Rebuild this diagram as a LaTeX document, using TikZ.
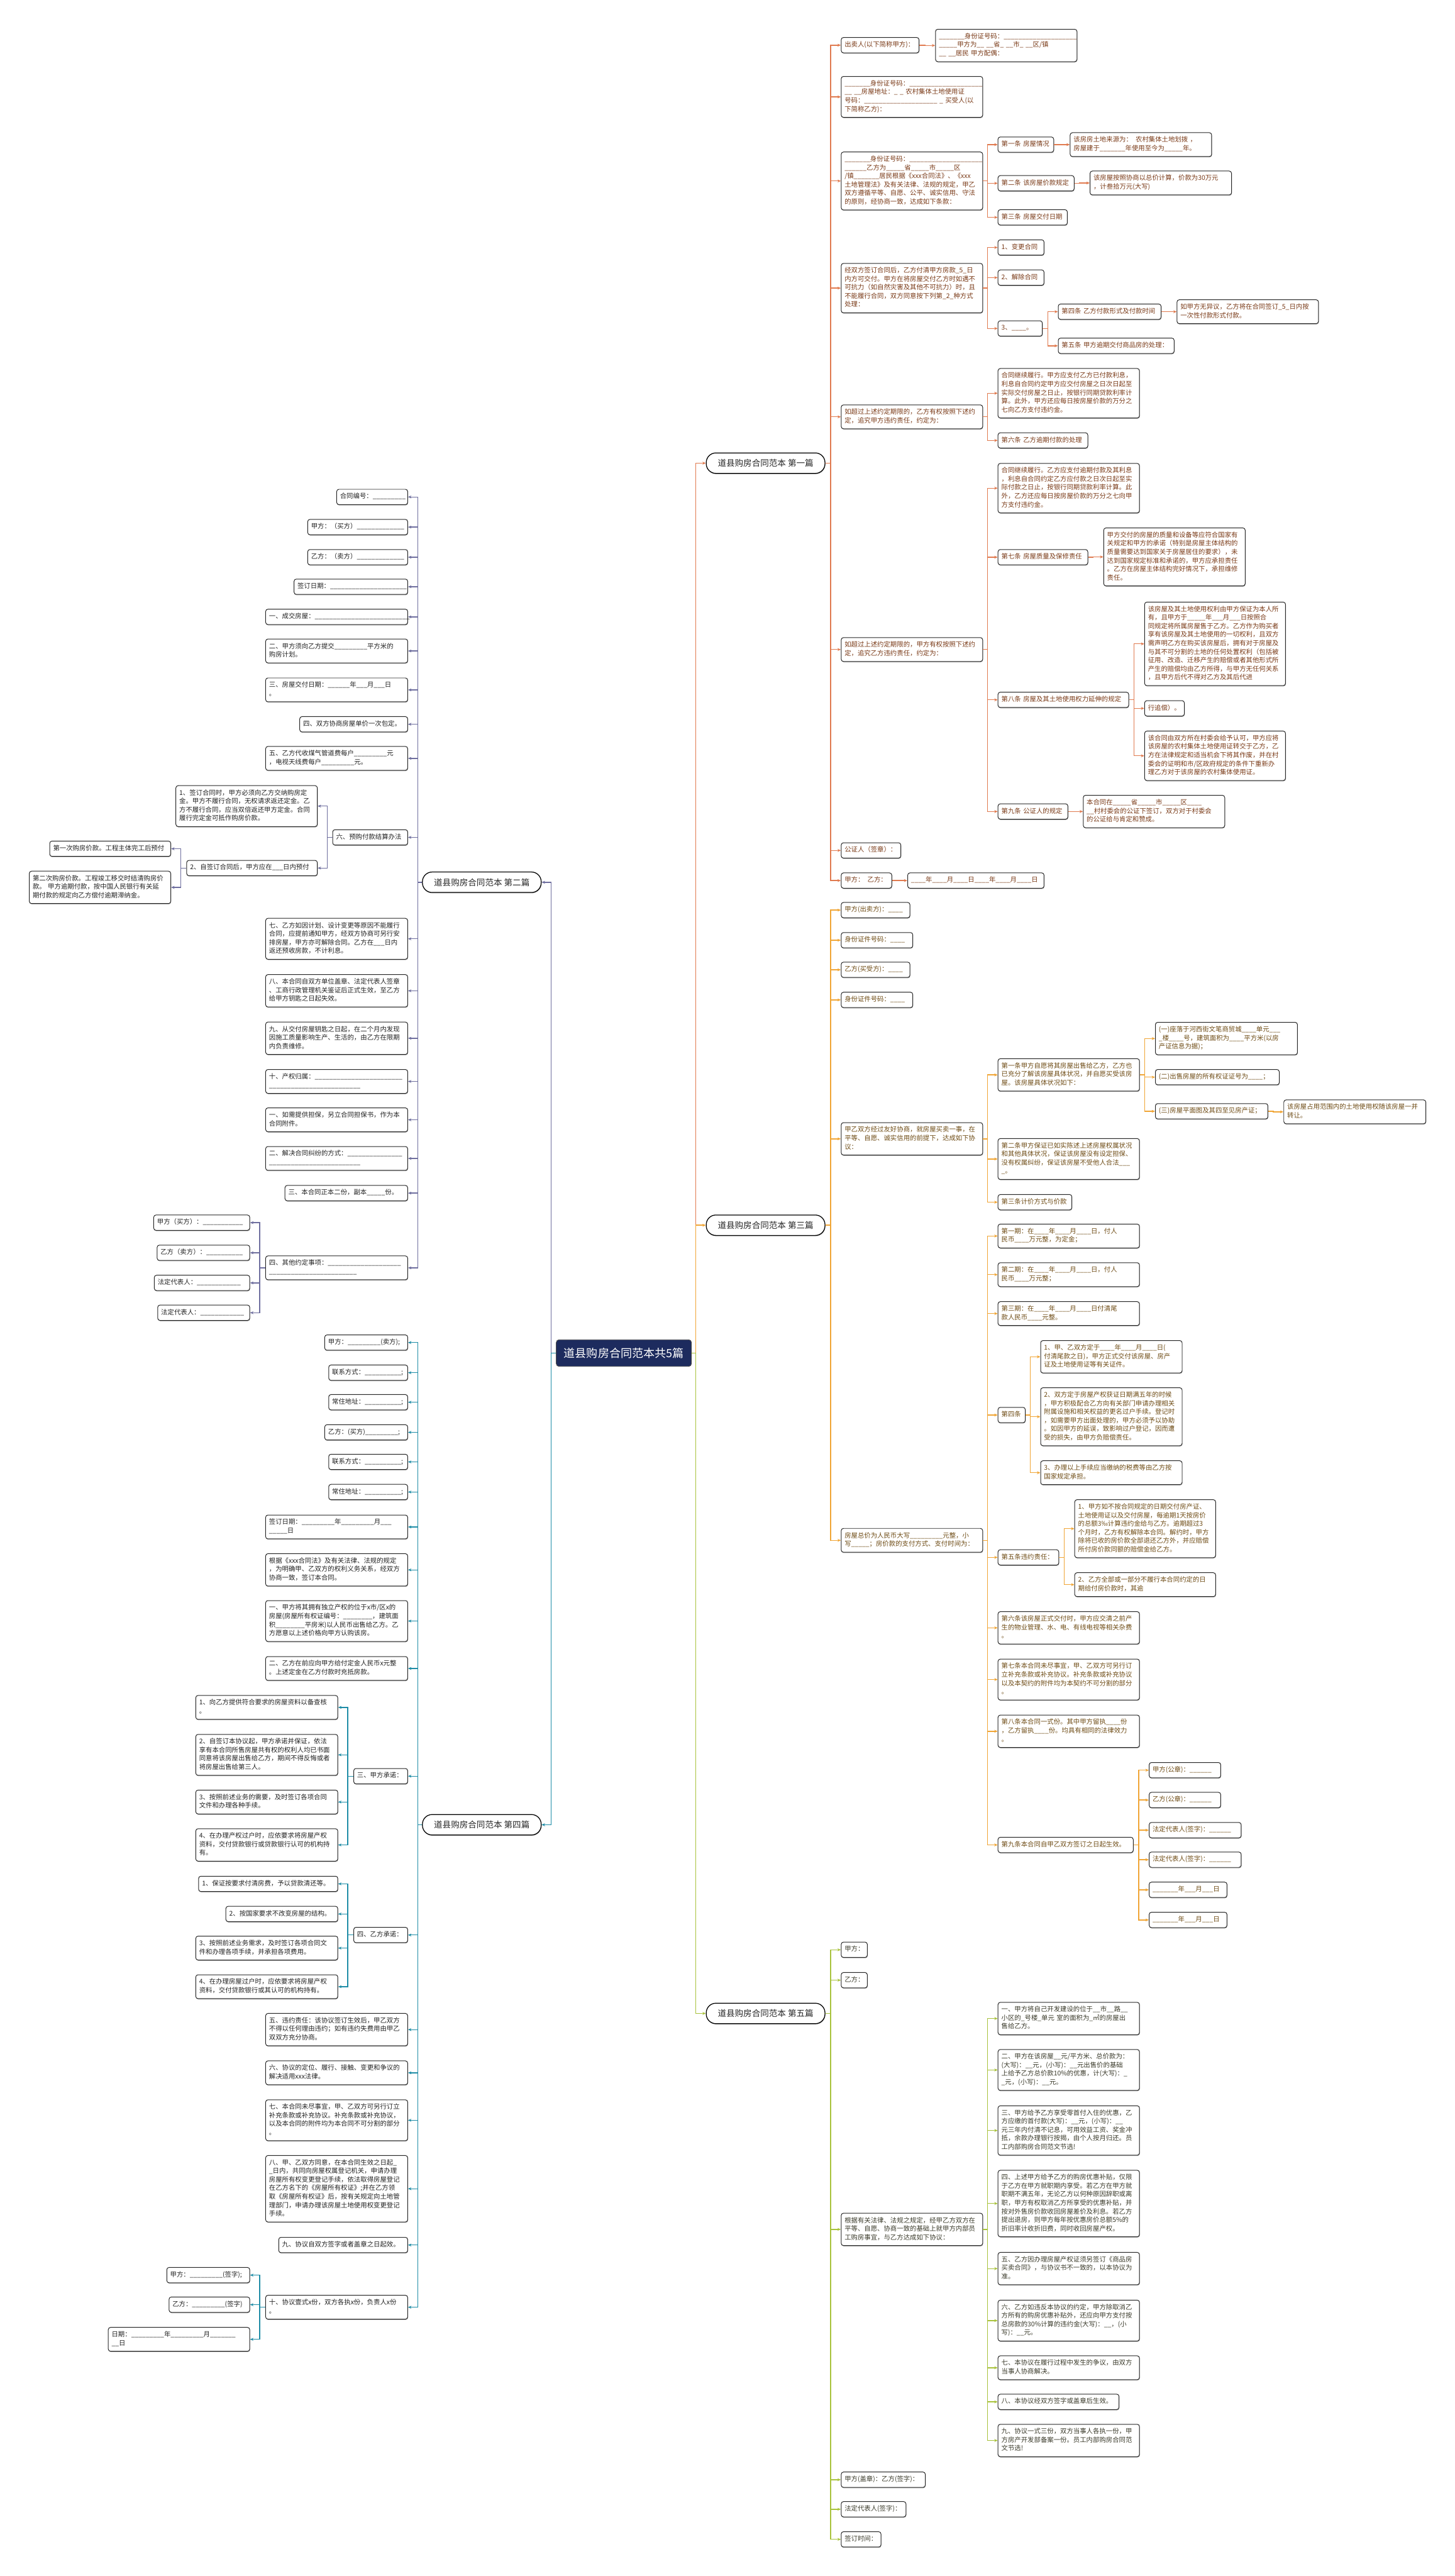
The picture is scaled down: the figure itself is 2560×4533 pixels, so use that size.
\documentclass[tikz,border=0pt]{standalone}
\usepackage{fontspec}
\newfontfamily\cjk{Noto Sans CJK SC}
\usetikzlibrary{arrows.meta,calc,shadows}
\definecolor{c1}{HTML}{E07A4F}
\definecolor{c2}{HTML}{6E6E9E}
\definecolor{c3}{HTML}{F0A535}
\definecolor{c4}{HTML}{1E8CA6}
\definecolor{c5}{HTML}{A8C23C}
\definecolor{tc1}{HTML}{7A3A17}
\definecolor{tc3}{HTML}{6E4B14}
\definecolor{tc5}{HTML}{3A3A2A}
\definecolor{tcl}{HTML}{222222}
\definecolor{navy}{HTML}{1D2B5E}
\newcommand\bn[6]{\pgfmathsetmacro\mytw{#4-#3-12}\node[#2,text width=\mytw pt] (#1) at (#3,#5) {#6};}
\newcommand\ER[3]{\draw[#1] (#2.east) -| ($(#3.west)+(-18,0)$) -- (#3.west);}
\newcommand\EL[3]{\draw[#1] (#2.west) -| ($(#3.east)+(17,0)$) -- (#3.east);}
\tikzset{
 bx/.style={draw=black!85, line width=1.1pt, rounded corners=4pt, fill=white, inner xsep=6pt, inner ysep=6pt, align=left, anchor=west, font=\cjk\fontsize{11.5}{15}\selectfont, execute at begin node=\strut, execute at end node=\strut, drop shadow={shadow xshift=0.6pt, shadow yshift=-1.4pt, opacity=0.3, fill=black}},
 k1/.style={bx, text=tc1}, k3/.style={bx, text=tc3}, k5/.style={bx, text=tc5}, kl/.style={bx, text=tcl},
 lone/.style={draw=black, line width=1.4pt, rounded corners=17pt, fill=white, minimum width=209pt, minimum height=36pt, inner sep=0pt, font=\cjk\fontsize{15}{18}\selectfont, text=black!85, drop shadow={shadow xshift=0.6pt, shadow yshift=-1.4pt, opacity=0.3, fill=black}},
 cen/.style={fill=navy, draw=black!70, line width=1pt, rounded corners=5pt, minimum width=238pt, minimum height=47pt, inner sep=0pt, text=white, font=\cjk\fontsize{20}{24}\selectfont},
 e1/.style={draw=c1, line width=1.5pt, -{Stealth[length=6pt,width=5pt]}},
 e2/.style={draw=c2, line width=1.5pt, -{Stealth[length=6pt,width=5pt]}},
 e3/.style={draw=c3, line width=1.5pt, -{Stealth[length=6pt,width=5pt]}},
 e4/.style={draw=c4, line width=1.5pt, -{Stealth[length=6pt,width=5pt]}},
 e5/.style={draw=c5, line width=1.5pt, -{Stealth[length=6pt,width=5pt]}},
}
\begin{document}
\catcode`\_=12
\begin{tikzpicture}[x=1pt,y=-1pt]
\useasboundingbox[fill=white] (0,0) rectangle (2560,4533);
% central and level one
\node[cen] (C) at (1098,2381) {道县购房合同范本共5篇};
\node[lone] (L1) at (1347.5,815) {道县购房合同范本 第一篇};
\node[lone] (L2) at (848,1552.5) {道县购房合同范本 第二篇};
\node[lone] (L3) at (1347.5,2156) {道县购房合同范本 第三篇};
\node[lone] (L4) at (848,3211) {道县购房合同范本 第四篇};
\node[lone] (L5) at (1347.5,3543) {道县购房合同范本 第五篇};

% ---------- branch 1 ----------
\bn{b1a}{k1}{1480}{1617}{79.5}{出卖人(以下简称甲方)：}
\bn{b1a1}{k1}{1646}{1895}{80}{_______身份证号码：____________________\\_____甲方为__ __省_ __市_ __区/镇\\__ __居民 甲方配偶：}
\bn{b1b}{k1}{1480}{1729}{170.5}{_______身份证号码：____________________\\__ __房屋地址：_ _ 农村集体土地使用证\\号码：____________________ _ 买受人(以\\下简称乙方)：}
\bn{b1c}{k1}{1480}{1729}{318.5}{_______身份证号码：____________________\\______乙方为_____省_____市_____区\\/镇_______居民根据《xxx合同法》、《xxx\\土地管理法》及有关法律、法规的规定，甲乙\\双方遵循平等、自愿、公平、诚实信用、守法\\的原则，经协商一致，达成如下条款：}
\bn{b1c1}{k1}{1756}{1854}{254.5}{第一条 房屋情况}
\bn{b1c1a}{k1}{1883}{2132}{254.5}{该房房土地来源为：\enspace 农村集体土地划拨 ，\\房屋建于_______年使用至今为_____年。}
\bn{b1c2}{k1}{1756}{1890}{322.5}{第二条 该房屋价款规定}
\bn{b1c2a}{k1}{1918}{2167}{322}{该房屋按照协商以总价计算，价款为30万元\\，计叁拾万元(大写)}
\bn{b1c3}{k1}{1756}{1878}{382.5}{第三条 房屋交付日期}
\bn{b1d}{k1}{1480}{1729}{507}{经双方签订合同后，乙方付清甲方房款_5_日\\内方可交付。甲方在将房屋交付乙方时如遇不\\可抗力（如自然灾害及其他不可抗力）时，且\\不能履行合同，双方同意按下列第_2_种方式\\处理：}
\bn{b1d1}{k1}{1756}{1837}{435.5}{1、变更合同}
\bn{b1d2}{k1}{1756}{1837}{488.5}{2、解除合同}
\bn{b1d3}{k1}{1756}{1834}{578}{3、____。}
\bn{b1d3a}{k1}{1862}{2043}{548.5}{第四条 乙方付款形式及付款时间}
\bn{b1d3a1}{k1}{2071}{2320}{548.5}{如甲方无异议，乙方将在合同签订_5_日内按\\一次性付款形式付款。}
\bn{b1d3b}{k1}{1862}{2066}{608.5}{第五条 甲方逾期交付商品房的处理：}
\bn{b1e}{k1}{1480}{1729}{733.5}{如超过上述约定期限的，乙方有权按照下述约\\定，追究甲方违约责任，约定为：}
\bn{b1e1}{k1}{1756}{2005}{692}{合同继续履行。甲方应支付乙方已付款利息，\\利息自合同约定甲方应交付房屋之日次日起至\\实际交付房屋之日止，按银行同期贷款利率计\\算。此外，甲方还应每日按房屋价款的万分之\\七向乙方支付违约金。}
\bn{b1e2}{k1}{1756}{1914}{775}{第六条 乙方逾期付款的处理}
\bn{b1f}{k1}{1480}{1729}{1143}{如超过上述约定期限的，甲方有权按照下述约\\定，追究乙方违约责任，约定为：}
\bn{b1f1}{k1}{1756}{2005}{859}{合同继续履行。乙方应支付逾期付款及其利息\\，利息自合同约定乙方应付款之日次日起至实\\际付款之日止，按银行同期贷款利率计算。此\\外，乙方还应每日按房屋价款的万分之七向甲\\方支付违约金。}
\bn{b1f2}{k1}{1756}{1914}{980.5}{第七条 房屋质量及保修责任}
\bn{b1f2a}{k1}{1942}{2191}{980}{甲方交付的房屋的质量和设备等应符合国家有\\关规定和甲方的承诺（特别是房屋主体结构的\\质量需要达到国家关于房屋居住的要求），未\\达到国家规定标准和承诺的，甲方应承担责任\\。乙方在房屋主体结构完好情况下，承担维修\\责任。}
\bn{b1f3}{k1}{1756}{1986}{1231.5}{第八条 房屋及其土地使用权力延伸的规定}
\bn{b1f3a}{k1}{2014}{2262}{1133}{该房屋及其土地使用权利由甲方保证为本人所\\有，且甲方于_____年___月___日按照合\\同规定将所属房屋售于乙方。乙方作为购买者\\享有该房屋及其土地使用的一切权利，且双方\\需声明乙方在购买该房屋后，拥有对于房屋及\\与其不可分割的土地的任何处置权利（包括被\\征用、改造、迁移产生的赔偿或者其他形式所\\产生的赔偿均由乙方所得，与甲方无任何关系\\，且甲方后代不得对乙方及其后代进}
\bn{b1f3b}{k1}{2014}{2084}{1246.5}{行追偿）。}
\bn{b1f3c}{k1}{2014}{2262}{1330}{该合同由双方所在村委会给予认可，甲方应将\\该房屋的农村集体土地使用证转交于乙方，乙\\方在法律规定和适当机会下将其作废，并在村\\委会的证明和市/区政府规定的条件下重新办\\理乙方对于该房屋的农村集体使用证。}
\bn{b1f4}{k1}{1756}{1879}{1428}{第九条 公证人的规定}
\bn{b1f4a}{k1}{1906}{2155}{1428}{本合同在_____省_____市_____区____\\__村村委会的公证下签订，双方对于村委会\\的公证给与肯定和赞成。}
\bn{b1g}{k1}{1480}{1585}{1496.5}{公证人（签章）：}
\bn{b1h}{k1}{1480}{1569}{1549.5}{甲方：\enspace 乙方：}
\bn{b1h1}{k1}{1597}{1837}{1549.5}{____年____月____日____年____月____日}

% ---------- branch 3 ----------
\bn{b3a}{k3}{1480}{1601}{1601.5}{甲方(出卖方)：____}
\bn{b3b}{k3}{1480}{1606}{1654.5}{身份证件号码：____}
\bn{b3c}{k3}{1480}{1601}{1706.5}{乙方(买受方)：____}
\bn{b3d}{k3}{1480}{1606}{1759.5}{身份证件号码：____}
\bn{b3e}{k3}{1480}{1729}{2004}{甲乙双方经过友好协商，就房屋买卖一事，在\\平等、自愿、诚实信用的前提下，达成如下协\\议：}
\bn{b3e1}{k3}{1756}{2005}{1891.5}{第一条甲方自愿将其房屋出售给乙方，乙方也\\已充分了解该房屋具体状况，并自愿买受该房\\屋。该房屋具体状况如下：}
\bn{b3e1a}{k3}{2033}{2283}{1827.5}{(一)座落于河西街文笔商贸城____单元___\\_楼____号，建筑面积为____平方米(以房\\产证信息为据)；}
\bn{b3e1b}{k3}{2033}{2251}{1895.5}{(二)出售房屋的所有权证证号为____；}
\bn{b3e1c}{k3}{2033}{2231}{1955.5}{(三)房屋平面图及其四至见房产证；}
\bn{b3e1c1}{k3}{2259}{2509}{1956.5}{该房屋占用范围内的土地使用权随该房屋一并\\转让。}
\bn{b3e2}{k3}{1756}{2005}{2039.5}{第二条甲方保证已如实陈述上述房屋权属状况\\和其他具体状况，保证该房屋没有设定担保、\\没有权属纠纷，保证该房屋不受他人合法___\\_。}
\bn{b3e3}{k3}{1756}{1886}{2115.5}{第三条计价方式与价款}
\bn{b3f}{k3}{1480}{1729}{2710.5}{房屋总价为人民币大写_________元整，小\\写_____；房价款的支付方式、支付时间为：}
\bn{b3f1}{k3}{1756}{2005}{2175}{第一期：在____年____月____日，付人\\民币____万元整，为定金；}
\bn{b3f2}{k3}{1756}{2005}{2243}{第二期：在____年____月____日，付人\\民币____万元整；}
\bn{b3f3}{k3}{1756}{2005}{2311.5}{第三期：在____年____月____日付清尾\\款人民币____元整。}
\bn{b3f4}{k3}{1756}{1804}{2490}{第四条}
\bn{b3f4a}{k3}{1831}{2080}{2387.5}{1、甲、乙双方定于____年____月____日(\\付清尾款之日)，甲方正式交付该房屋、房产\\证及土地使用证等有关证件。}
\bn{b3f4b}{k3}{1831}{2080}{2493}{2、双方定于房屋产权获证日期满五年的时候\\，甲方积极配合乙方向有关部门申请办理相关\\附属设施和相关权益的更名过户手续。登记时\\，如需要甲方出面处理的，甲方必须予以协助\\。如因甲方的延误，致影响过户登记，因而遭\\受的损失，由甲方负赔偿责任。}
\bn{b3f4c}{k3}{1831}{2080}{2591.5}{3、办理以上手续应当缴纳的税费等由乙方按\\国家规定承担。}
\bn{b3f5}{k3}{1756}{1863}{2740.5}{第五条违约责任：}
\bn{b3f5a}{k3}{1891}{2139}{2690}{1、甲方如不按合同规定的日期交付房产证、\\土地使用证以及交付房屋，每逾期1天按房价\\的总额3‰计算违约金给与乙方。逾期超过3\\个月时，乙方有权解除本合同。解约时，甲方\\除将已收的房价款全部退还乙方外，并应赔偿\\所付房价款同额的赔偿金给乙方。}
\bn{b3f5b}{k3}{1891}{2139}{2788.5}{2、乙方全部或一部分不履行本合同约定的日\\期给付房价款时，其逾}
\bn{b3f6}{k3}{1756}{2005}{2864.5}{第六条该房屋正式交付时，甲方应交清之前产\\生的物业管理、水、电、有线电视等相关杂费\\。}
\bn{b3f7}{k3}{1756}{2005}{2955.5}{第七条本合同未尽事宜，甲、乙双方可另行订\\立补充条款或补充协议。补充条款或补充协议\\以及本契约的附件均为本契约不可分割的部分\\。}
\bn{b3f8}{k3}{1756}{2005}{3046.5}{第八条本合同一式份。其中甲方留执____份\\，乙方留执____份。均具有相同的法律效力\\。}
\bn{b3f9}{k3}{1756}{1994}{3246.5}{第九条本合同自甲乙双方签订之日起生效。}
\bn{b3f9a}{k3}{2022}{2148}{3115}{甲方(公章)：______}
\bn{b3f9b}{k3}{2022}{2148}{3167.5}{乙方(公章)：______}
\bn{b3f9c}{k3}{2022}{2184}{3220.5}{法定代表人(签字)：______}
\bn{b3f9d}{k3}{2022}{2184}{3272.5}{法定代表人(签字)：______}
\bn{b3f9e}{k3}{2022}{2159}{3325.5}{_______年___月___日}
\bn{b3f9f}{k3}{2022}{2159}{3378.5}{_______年___月___日}

% ---------- branch 5 ----------
\bn{b5a}{k5}{1480}{1526}{3431}{甲方：}
\bn{b5b}{k5}{1480}{1526}{3484.5}{乙方：}
\bn{b5c}{k5}{1480}{1729}{3923}{根据有关法律、法规之规定，经甲乙方双方在\\平等、自愿、协商一致的基础上就甲方内部员\\工购房事宜，与乙方达成如下协议：}
\bn{b5c1}{k5}{1756}{2005}{3552}{一、甲方将自己开发建设的位于__市__路__\\小区的_号楼_单元 室的面积为_㎡的房屋出\\售给乙方。}
\bn{b5c2}{k5}{1756}{2005}{3642.5}{二、甲方在该房屋__元/平方米、总价款为：\\(大写)：__元，(小写)：__元出售价的基础\\上给予乙方总价款10\%的优惠，计(大写)：_\\_元，(小写)：__元。}
\bn{b5c3}{k5}{1756}{2005}{3749}{三、甲方给予乙方享受零首付入住的优惠，乙\\方应缴的首付款(大写)：__元，(小写)：__\\元三年内付清不记息，可用效益工资、奖金冲\\抵，余款办理银行按揭，由个人按月归还。员\\工内部购房合同范文节选!}
\bn{b5c4}{k5}{1756}{2005}{3877.5}{四、上述甲方给予乙方的购房优惠补贴，仅限\\于乙方在甲方就职期内享受。若乙方在甲方就\\职期不满五年，无论乙方以何种原因辞职或离\\职，甲方有权取消乙方所享受的优惠补贴，并\\按对外售房价款收回房屋差价及利息。若乙方\\提出退房，则甲方每年按优惠房价总额5\%的\\折旧率计收折旧费，同时收回房屋产权。}
\bn{b5c5}{k5}{1756}{2005}{3992}{五、乙方因办理房屋产权证须另签订《商品房\\买卖合同》，与协议书不一致的，以本协议为\\准。}
\bn{b5c6}{k5}{1756}{2005}{4083.5}{六、乙方如违反本协议的约定，甲方除取消乙\\方所有的购房优惠补贴外，还应向甲方支付按\\总房款的30\%计算的违约金(大写)：__，(小\\写)：__元。}
\bn{b5c7}{k5}{1756}{2005}{4166.5}{七、本协议在履行过程中发生的争议，由双方\\当事人协商解决。}
\bn{b5c8}{k5}{1756}{1969}{4226.5}{八、本协议经双方签字或盖章后生效。}
\bn{b5c9}{k5}{1756}{2005}{4294.5}{九、协议一式三份，双方当事人各执一份，甲\\方房产开发部备案一份。员工内部购房合同范\\文节选!}
\bn{b5d}{k5}{1480}{1628}{4363.5}{甲方(盖章)：乙方(签字)：}
\bn{b5e}{k5}{1480}{1594}{4415.5}{法定代表人(签字)：}
\bn{b5f}{k5}{1480}{1550}{4468.5}{签订时间：}

% ---------- branch 2 ----------
\bn{b2a}{kl}{592}{717}{874.5}{合同编号：_________}
\bn{b2b}{kl}{541}{717}{927.5}{甲方：（买方）_____________}
\bn{b2c}{kl}{541}{717}{980.5}{乙方：（卖方）_____________}
\bn{b2d}{kl}{517}{717}{1032.5}{签订日期：_____________________}
\bn{b2e}{kl}{467}{717}{1085.5}{一、成交房屋：__________________________}
\bn{b2f}{kl}{467}{717}{1145.5}{二、甲方须向乙方提交_________平方米的\\购房计划。}
\bn{b2g}{kl}{467}{717}{1214}{三、房屋交付日期：______年___月___日\\。}
\bn{b2h}{kl}{527}{717}{1274.5}{四、双方协商房屋单价一次包定。}
\bn{b2i}{kl}{467}{717}{1334.5}{五、乙方代收煤气管道费每户_________元\\，电视天线费每户_________元。}
\bn{b2j}{kl}{585}{717}{1473.5}{六、预购付款结算办法}
\bn{b2j1}{kl}{309}{558}{1418.5}{1、签订合同时，甲方必须向乙方交纳购房定\\金。甲方不履行合同，无权请求返还定金。乙\\方不履行合同，应当双倍返还甲方定金。合同\\履行完定金可抵作购房价款。}
\bn{b2j2}{kl}{328}{558}{1527.5}{2、自签订合同后，甲方应在___日内预付}
\bn{b2j2a}{kl}{87}{300}{1493.5}{第一次购房价款。工程主体完工后预付}
\bn{b2j2b}{kl}{51}{300}{1561.5}{第二次购房价款。工程竣工移交时结清购房价\\款。 甲方逾期付款，按中国人民银行有关延\\期付款的规定向乙方偿付逾期滞纳金。}
\bn{b2k}{kl}{467}{717}{1652}{七、乙方如因计划、设计变更等原因不能履行\\合同，应提前通知甲方，经双方协商可另行安\\排房屋，甲方亦可解除合同。乙方在___日内\\返还预收房款，不计利息。}
\bn{b2l}{kl}{467}{717}{1743.5}{八、本合同自双方单位盖章、法定代表人签章\\、工商行政管理机关鉴证后正式生效，至乙方\\给甲方钥匙之日起失效。}
\bn{b2m}{kl}{467}{717}{1827}{九、从交付房屋钥匙之日起，在二个月内发现\\因施工质量影响生产、生活的，由乙方在限期\\内负责维修。}
\bn{b2n}{kl}{467}{717}{1903}{十、产权归属：________________________\\_________________________}
\bn{b2o}{kl}{467}{717}{1970.5}{一、如需提供担保，另立合同担保书，作为本\\合同附件。}
\bn{b2p}{kl}{467}{717}{2038.5}{二、解决合同纠纷的方式：_______________\\_________________________}
\bn{b2q}{kl}{501}{717}{2099.5}{三、本合同正本二份，副本_____份。}
\bn{b2r}{kl}{467}{717}{2231}{四、其他约定事项：____________________\\________________________}
\bn{b2r1}{kl}{270}{439}{2151.5}{甲方（买方）：___________}
\bn{b2r2}{kl}{276}{439}{2204.5}{乙方（卖方）：__________}
\bn{b2r3}{kl}{271}{439}{2257.5}{法定代表人：____________}
\bn{b2r4}{kl}{277}{439}{2310}{法定代表人：____________}

% ---------- branch 4 ----------
\bn{b4a}{kl}{571}{717}{2362.5}{甲方：_________(卖方);}
\bn{b4b}{kl}{578}{717}{2415.5}{联系方式：__________;}
\bn{b4c}{kl}{578}{717}{2467.5}{常住地址：__________;}
\bn{b4d}{kl}{571}{717}{2520.5}{乙方：(买方)_________;}
\bn{b4e}{kl}{578}{717}{2572.5}{联系方式：__________;}
\bn{b4f}{kl}{578}{717}{2625.5}{常住地址：__________;}
\bn{b4g}{kl}{467}{717}{2687}{签订日期：_________年_________月___\\_____日}
\bn{b4h}{kl}{467}{717}{2762.5}{根据《xxx合同法》及有关法律、法规的规定\\，为明确甲、乙双方的权利义务关系，经双方\\协商一致，签订本合同。}
\bn{b4i}{kl}{467}{717}{2852.5}{一、甲方将其拥有独立产权的位于x市/区x的\\房屋(房屋所有权证编号：________，建筑面\\积________平房米)以人民币出售给乙方。乙\\方愿意以上述价格向甲方认购该房。}
\bn{b4j}{kl}{467}{717}{2936}{二、乙方在前应向甲方给付定金人民币x元整\\。上述定金在乙方付款时充抵房款。}
\bn{b4k}{kl}{622}{717}{3125.5}{三、甲方承诺：}
\bn{b4k1}{kl}{344}{594}{3004.5}{1、向乙方提供符合要求的房屋资料以备查核\\。}
\bn{b4k2}{kl}{344}{594}{3088}{2、自签订本协议起，甲方承诺并保证，依法\\享有本合同所售房屋共有权的权利人均已书面\\同意将该房屋出售给乙方，期间不得反悔或者\\将房屋出售给第三人。}
\bn{b4k3}{kl}{344}{594}{3171}{3、按照前述业务的需要，及时签订各项合同\\文件和办理各种手续。}
\bn{b4k4}{kl}{344}{594}{3246.5}{4、在办理产权过户时，应依要求将房屋产权\\资料，交付贷款银行或贷款银行认可的机构持\\有。}
\bn{b4l}{kl}{622}{717}{3405}{四、乙方承诺：}
\bn{b4l1}{kl}{349}{594}{3315}{1、保证按要求付清房费，予以贷款清还等。}
\bn{b4l2}{kl}{397}{594}{3368}{2、按国家要求不改变房屋的结构。}
\bn{b4l3}{kl}{344}{594}{3428}{3、按照前述业务需求，及时签订各项合同文\\件和办理各项手续，并承担各项费用。}
\bn{b4l4}{kl}{344}{594}{3496}{4、在办理房屋过户时，应依要求将房屋产权\\资料，交付贷款银行或其认可的机构持有。}
\bn{b4m}{kl}{467}{717}{3571.5}{五、违约责任：该协议签订生效后，甲乙双方\\不得以任何理由违约；如有违约失费用由甲乙\\双双方充分协商。}
\bn{b4n}{kl}{467}{717}{3647.5}{六、协议的定位、履行、接触、变更和争议的\\解决适用xxx法律。}
\bn{b4o}{kl}{467}{717}{3731}{七、本合同未尽事宜，甲、乙双方可另行订立\\补充条款或补充协议。补充条款或补充协议，\\以及本合同的附件均为本合同不可分割的部分\\。}
\bn{b4p}{kl}{467}{717}{3851.5}{八、甲、乙双方同意，在本合同生效之日起_\\_日内，共同向房屋权属登记机关，申请办理\\房屋所有权变更登记手续，依法取得房屋登记\\在乙方名下的《房屋所有权证》;并在乙方领\\取《房屋所有权证》后，按有关规定向土地管\\理部门，申请办理该房屋土地使用权变更登记\\手续。}
\bn{b4q}{kl}{490}{717}{3950.5}{九、协议自双方签字或者盖章之日起效。}
\bn{b4r}{kl}{467}{717}{4060}{十、协议壹式x份，双方各执x份，负责人x份\\。}
\bn{b4r1}{kl}{293}{439}{4003.5}{甲方：_________(签字);}
\bn{b4r2}{kl}{297}{439}{4055.5}{乙方：_________(签字)}
\bn{b4r3}{kl}{190}{439}{4116.5}{日期：_________年_________月_______\\__日}

% ---------- connectors ----------
\ER{e1}{C}{L1}
\ER{e3}{C}{L3}
\ER{e5}{C}{L5}
\EL{e2}{C}{L2}
\EL{e4}{C}{L4}

\foreach \c in {b1a,b1b,b1c,b1d,b1e,b1f,b1g,b1h} {\ER{e1}{L1}{\c}}
\ER{e1}{b1a}{b1a1}
\foreach \c in {b1c1,b1c2,b1c3} {\ER{e1}{b1c}{\c}}
\ER{e1}{b1c1}{b1c1a}
\ER{e1}{b1c2}{b1c2a}
\foreach \c in {b1d1,b1d2,b1d3} {\ER{e1}{b1d}{\c}}
\ER{e1}{b1d3}{b1d3a}
\ER{e1}{b1d3}{b1d3b}
\ER{e1}{b1d3a}{b1d3a1}
\ER{e1}{b1e}{b1e1}
\ER{e1}{b1e}{b1e2}
\foreach \c in {b1f1,b1f2,b1f3,b1f4} {\ER{e1}{b1f}{\c}}
\ER{e1}{b1f2}{b1f2a}
\foreach \c in {b1f3a,b1f3b,b1f3c} {\ER{e1}{b1f3}{\c}}
\ER{e1}{b1f4}{b1f4a}
\ER{e1}{b1h}{b1h1}

\foreach \c in {b3a,b3b,b3c,b3d,b3e,b3f} {\ER{e3}{L3}{\c}}
\foreach \c in {b3e1,b3e2,b3e3} {\ER{e3}{b3e}{\c}}
\foreach \c in {b3e1a,b3e1b,b3e1c} {\ER{e3}{b3e1}{\c}}
\ER{e3}{b3e1c}{b3e1c1}
\foreach \c in {b3f1,b3f2,b3f3,b3f4,b3f5,b3f6,b3f7,b3f8,b3f9} {\ER{e3}{b3f}{\c}}
\foreach \c in {b3f4a,b3f4b,b3f4c} {\ER{e3}{b3f4}{\c}}
\foreach \c in {b3f5a,b3f5b} {\ER{e3}{b3f5}{\c}}
\foreach \c in {b3f9a,b3f9b,b3f9c,b3f9d,b3f9e,b3f9f} {\ER{e3}{b3f9}{\c}}

\foreach \c in {b5a,b5b,b5c,b5d,b5e,b5f} {\ER{e5}{L5}{\c}}
\foreach \c in {b5c1,b5c2,b5c3,b5c4,b5c5,b5c6,b5c7,b5c8,b5c9} {\ER{e5}{b5c}{\c}}

\foreach \c in {b2a,b2b,b2c,b2d,b2e,b2f,b2g,b2h,b2i,b2j,b2k,b2l,b2m,b2n,b2o,b2p,b2q,b2r} {\EL{e2}{L2}{\c}}
\foreach \c in {b2j1,b2j2} {\EL{e2}{b2j}{\c}}
\foreach \c in {b2j2a,b2j2b} {\EL{e2}{b2j2}{\c}}
\foreach \c in {b2r1,b2r2,b2r3,b2r4} {\EL{e2}{b2r}{\c}}

\foreach \c in {b4a,b4b,b4c,b4d,b4e,b4f,b4g,b4h,b4i,b4j,b4k,b4l,b4m,b4n,b4o,b4p,b4q,b4r} {\EL{e4}{L4}{\c}}
\foreach \c in {b4k1,b4k2,b4k3,b4k4} {\EL{e4}{b4k}{\c}}
\foreach \c in {b4l1,b4l2,b4l3,b4l4} {\EL{e4}{b4l}{\c}}
\foreach \c in {b4r1,b4r2,b4r3} {\EL{e4}{b4r}{\c}}
\end{tikzpicture}
\end{document}
